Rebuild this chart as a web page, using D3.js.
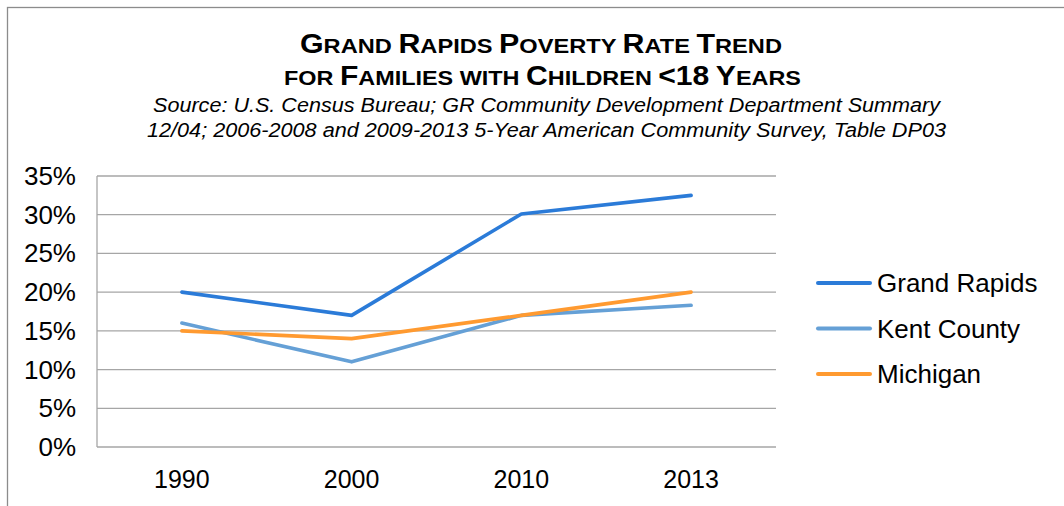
<!DOCTYPE html>
<html lang="en">
<head>
<meta charset="UTF-8">
<script src="https://d3js.org/d3.v7.min.js"></script>
<style>
    body { margin: 0; background: #fff; }
    text { font-family: "Liberation Sans", Arial, sans-serif; fill: #000; }
    .title { font-weight: bold; }
    .sub { font-style: italic; font-size: 20px; }
    .grid line { stroke: #a6a6a6; stroke-width: 1.3px; }
</style>
</head>
<body>
<script>
    const years = ['1990', '2000', '2010', '2013'];
    const yTicks = [0, 5, 10, 15, 20, 25, 30, 35];
    const grandRapids = [20, 17, 30.1, 32.5];
    const kentCounty = [16, 11, 17, 18.3];
    const michigan = [15, 14, 17, 20];

    const seriesNames = ['Grand Rapids', 'Kent County', 'Michigan'];
    const seriesColors = ['#2b7bd8', '#65a0d6', '#ff9a30'];
    const series = [grandRapids, kentCounty, michigan];

    const width = 1064, height = 506;
    const plot = {left: 97, right: 776, top: 176, bottom: 447};

    const svg = d3.select('body').append('svg')
        .attr('width', width)
        .attr('height', height);

    // outer chart border
    svg.append('rect')
        .attr('x', 7.5).attr('y', 7.5)
        .attr('width', 1100).attr('height', 600)
        .attr('fill', 'none')
        .attr('stroke', '#8c8c8c')
        .attr('stroke-width', 1.3);

    // small caps title, built by hand: capitals big, lower case as smaller capitals
    function smallCaps(str, x, y, len) {
        const t = svg.append('text').attr('class', 'title')
            .attr('x', x).attr('y', y)
            .attr('textLength', len).attr('lengthAdjust', 'spacingAndGlyphs');
        const runs = str.match(/([A-Z0-9<]+|[^A-Z0-9<]+)/g);
        runs.forEach(r => {
            const big = /[A-Z0-9<]/.test(r[0]);
            t.append('tspan')
                .attr('font-size', big ? 27 : 21)
                .text(r.toUpperCase());
        });
    }
    smallCaps('Grand Rapids Poverty Rate Trend', 300, 53, 482);
    smallCaps('for Families with Children <18 Years', 284, 85, 517);

    svg.append('text').attr('class', 'sub')
        .attr('x', 153).attr('y', 112)
        .attr('textLength', 787).attr('lengthAdjust', 'spacingAndGlyphs')
        .text('Source: U.S. Census Bureau; GR Community Development Department Summary');
    svg.append('text').attr('class', 'sub')
        .attr('x', 147).attr('y', 137)
        .attr('textLength', 799).attr('lengthAdjust', 'spacingAndGlyphs')
        .text('12/04; 2006-2008 and 2009-2013 5-Year American Community Survey, Table DP03');

    const x = d3.scaleBand().domain(years).range([plot.left, plot.right]);
    const y = d3.scaleLinear().domain([0, 35]).range([plot.bottom, plot.top]);

    // gridlines
    svg.append('g').attr('class', 'grid')
        .selectAll('line')
        .data(yTicks)
        .enter().append('line')
        .attr('x1', plot.left).attr('x2', plot.right)
        .attr('y1', d => y(d)).attr('y2', d => y(d));

    svg.append('line')
        .attr('x1', plot.left).attr('x2', plot.left)
        .attr('y1', plot.top).attr('y2', plot.bottom)
        .attr('stroke', '#a6a6a6').attr('stroke-width', 1.3);

    // y labels
    svg.selectAll('.ylab')
        .data(yTicks)
        .enter().append('text')
        .attr('font-size', 26)
        .attr('x', 76)
        .attr('y', d => y(d) + 9)
        .attr('text-anchor', 'end')
        .text(d => d + '%');

    // x labels
    svg.selectAll('.xlab')
        .data(years)
        .enter().append('text')
        .attr('font-size', 25)
        .attr('x', d => x(d) + x.bandwidth() / 2)
        .attr('y', 488)
        .attr('text-anchor', 'middle')
        .text(d => d);

    const line = d3.line()
        .x((d, i) => x(years[i]) + x.bandwidth() / 2)
        .y(d => y(d));

    // draw back to front so Grand Rapids is on top
    [1, 2, 0].forEach(i => {
        svg.append('path')
            .datum(series[i])
            .attr('d', line)
            .attr('fill', 'none')
            .attr('stroke', seriesColors[i])
            .attr('stroke-width', 3.6)
            .attr('stroke-linecap', 'round')
            .attr('stroke-linejoin', 'round');
    });

    // legend
    const legend = svg.selectAll('.legend')
        .data(seriesNames)
        .enter().append('g')
        .attr('transform', (d, i) => `translate(818, ${283 + i * 45.5})`);

    legend.append('line')
        .attr('x1', 0).attr('x2', 52)
        .attr('stroke', (d, i) => seriesColors[i])
        .attr('stroke-width', 4)
        .attr('stroke-linecap', 'round');

    legend.append('text')
        .attr('font-size', 26)
        .attr('x', 59).attr('y', 9)
        .text(d => d);
</script>
</body>
</html>
